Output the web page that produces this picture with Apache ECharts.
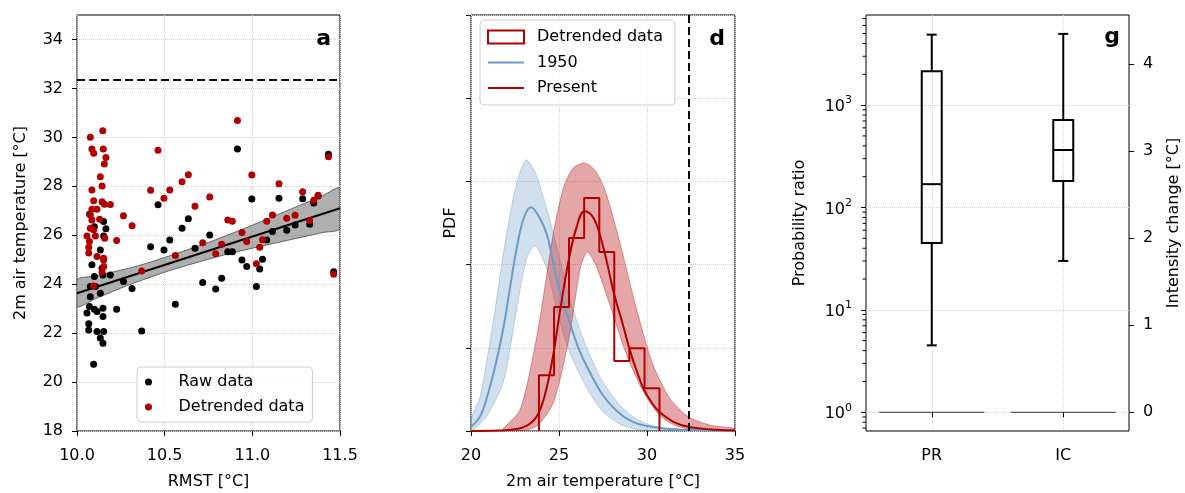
<!DOCTYPE html>
<html><head><meta charset="utf-8">
<script src="https://cdn.jsdelivr.net/npm/echarts@6/dist/echarts.min.js"></script>
<style>html,body{margin:0;padding:0;background:#fff}#c{width:1185px;height:493px}</style>
</head><body><div id="c"></div>
<script>
// ---------- Panel a: scatter ----------
const rmstRaw = [10.057,10.067,10.067,10.071,10.072,10.076,10.076,10.085,10.095,10.099,10.099,10.099,10.105,10.114,10.114,10.133,10.133,10.133,10.143,10.148,10.148,10.148,10.148,10.152,10.152,10.152,10.165,10.190,
  10.226,10.265,10.314,10.369,10.420,10.462,10.496,10.529,10.561,10.599,10.635,10.673,10.717,10.757,10.791,10.825,10.860,10.886,10.915,10.941,10.968,10.997,11.023,11.042,11.058,11.082,11.115,11.152,11.196,11.244,11.287,11.327,11.350,11.375,11.434,11.464];
const tempRaw = [22.82,22.38,22.13,23.09,26.86,23.90,23.49,24.79,20.73,26.35,24.31,22.98,23.90,22.88,22.07,25.40,23.63,21.80,24.65,24.38,23.02,22.68,21.59,26.56,25.97,22.07,26.26,24.38,
  22.98,24.11,23.82,22.09,25.53,27.25,25.40,25.81,23.18,26.29,26.67,25.47,24.07,26.01,23.80,24.24,25.33,25.33,29.52,24.99,24.72,27.48,23.90,24.62,25.02,25.81,26.15,27.51,26.20,26.42,27.49,26.45,27.32,27.60,29.31,24.51];
const rmstDet = [10.057,10.067,10.067,10.071,10.076,10.076,10.076,10.085,10.085,10.085,10.085,10.095,10.095,10.095,10.095,10.105,10.114,10.114,10.129,10.133,10.143,10.143,10.143,10.147,10.150,10.152,10.152,10.152,10.156,10.156,10.158,10.165,10.190,
  10.226,10.265,10.314,10.369,10.420,10.462,10.496,10.529,10.561,10.599,10.635,10.673,10.717,10.757,10.791,10.825,10.860,10.886,10.915,10.941,10.968,10.997,11.023,11.042,11.058,11.082,11.115,11.152,11.196,11.244,11.287,11.327,11.350,11.375,11.434,11.464];
const tempDet = [25.97,25.51,25.27,25.74,30.00,26.83,26.29,29.52,27.85,27.06,26.62,29.35,27.41,26.22,23.93,25.97,27.06,25.13,26.65,28.39,28.01,27.37,24.50,30.27,29.52,25.06,24.99,24.72,28.91,27.27,25.88,29.18,27.26,
  25.78,26.80,26.39,24.54,27.84,29.47,27.51,27.85,25.17,28.19,28.47,27.18,25.69,27.56,25.24,25.63,26.62,26.57,30.69,26.11,25.74,28.46,24.83,25.51,25.82,26.57,26.83,28.10,26.69,26.82,27.78,26.60,27.43,27.63,29.21,24.41];
const regX = [10.0, 11.5];
const regY = [23.63, 27.10];
const bandX     = [10.0,10.1,10.2,10.3,10.4,10.5,10.6,10.7,10.8,10.9,11.0,11.1,11.2,11.3,11.4,11.5];
const bandUpper = [24.18,24.33,24.49,24.66,24.86,25.09,25.33,25.58,25.84,26.12,26.41,26.71,27.01,27.31,27.61,27.93];
const bandLower = [23.08,23.39,23.69,23.98,24.24,24.49,24.71,24.92,25.12,25.30,25.47,25.63,25.79,25.95,26.11,26.27];
const eventTemp = 32.35;
const yTicksA = [18,20,22,24,26,28,30,32,34];

// ---------- Panel d: PDFs ----------
const line1950 = [[20,0.005],[20.5,0.017],[20.9,0.04],[21.4,0.08],[21.85,0.125],[22.2,0.17],[22.6,0.22],[23.0,0.256],[23.4,0.269],[23.85,0.258],[24.3,0.237],[24.6,0.21],[25.0,0.172],[25.6,0.131],[26.1,0.1],[26.6,0.077],[27.5,0.043],[28.5,0.02],[29.3,0.01],[30,0.006],[31,0.003],[32,0.0015],[35,0.0002]];
const band1950Upper = [[20,0.014],[20.5,0.04],[20.9,0.085],[21.4,0.15],[21.85,0.215],[22.4,0.28],[22.8,0.312],[23.15,0.326],[23.7,0.308],[24.3,0.267],[24.9,0.219],[25.6,0.159],[26.6,0.099],[27.5,0.059],[28.5,0.03],[29.4,0.0145],[30.5,0.005],[32,0.0015],[35,0.0003]];
const band1950Lower = [[20,0],[20.9,0.018],[21.85,0.06],[22.6,0.147],[23.15,0.207],[23.65,0.223],[24.3,0.195],[24.95,0.139],[25.6,0.095],[26.6,0.051],[27.5,0.023],[28.5,0.008],[29.4,0.002],[31,0],[35,0]];
const linePresent = [[20,0],[21.5,0.0005],[22.5,0.002],[23.3,0.008],[23.85,0.022],[24.3,0.052],[24.7,0.095],[25.1,0.15],[25.55,0.205],[26.0,0.245],[26.45,0.264],[26.9,0.258],[27.25,0.241],[27.7,0.205],[28.1,0.167],[28.6,0.13],[29.0,0.099],[29.4,0.073],[29.8,0.051],[30.3,0.033],[30.7,0.023],[31.5,0.011],[32.35,0.005],[33.5,0.002],[35,0.0005]];
const bandPresentUpper = [[21.8,0.002],[22.8,0.026],[23.75,0.115],[24.7,0.24],[25.25,0.292],[25.8,0.316],[26.45,0.322],[27.1,0.312],[27.7,0.284],[28.45,0.227],[29.4,0.147],[30.35,0.079],[31.3,0.039],[32.35,0.017],[33.6,0.007],[35,0.003]];
const bandPresentLower = [[21.8,0],[22.8,0],[23.75,0.006],[24.7,0.035],[25.6,0.115],[26.2,0.195],[26.6,0.215],[27.1,0.199],[27.9,0.151],[28.85,0.091],[29.8,0.047],[30.75,0.018],[31.7,0.006],[32.8,0.001],[35,0]];
const histEdges = [23.86,24.72,25.57,26.43,27.29,28.14,29.0,29.86,30.71];
const histDensity = [0.067,0.149,0.232,0.280,0.215,0.084,0.0996,0.0514];

// ---------- Panel g: boxes ----------
const gCats = [' ', 'PR', '  ', 'IC', '   '];
const prStats = [4.5, 45, 169, 2140, 4880];   // min, Q1, median, Q3, max
const icStats = [1.74, 2.66, 3.015, 3.36, 4.35];
const prBaseline = 1, icBaseline = 0;
const prTicks = [1, 10, 100, 1000];
const icTicks = [0, 1, 2, 3, 4];
const prRange = [0.656, 7590];
const icRange = [-0.215, 4.567];

const FONT = 'DejaVu Sans';
const RED = '#b20000';
const BLUE = '#6b9bca';
const tickStyle = {show:true, inside:false, length:5, lineStyle:{color:'#000', width:1}};
const splitStyle = {show:true, lineStyle:{color:'#d2d2d2', type:'dotted', width:1}};
const lab = {color:'#000', fontSize:16, fontFamily:FONT, margin:14};
const labX = Object.assign({}, lab, {margin:17});
const nameTS = {color:'#000', fontSize:16, fontFamily:FONT};

function polySeries(xi, yi, upper, lower, fill, stroke, z) {
  return {type:'custom', xAxisIndex:xi, yAxisIndex:yi, data:[[upper[0][0], upper[0][1]]], clip:true, silent:true, z:z,
    renderItem:function(params, api){
      const pts = upper.map(p=>api.coord(p)).concat(lower.slice().reverse().map(p=>api.coord(p)));
      return {type:'polygon', shape:{points:pts, smooth:0.25}, style:{fill:fill, stroke:stroke, lineWidth:1}};
    }};
}

function boxSeries(yi, stats, baseline) {
  return {type:'custom', xAxisIndex:2, yAxisIndex:yi, clip:false, silent:true, z:5,
    data:[[yi===2?1:3].concat(stats)], encode:{x:0, y:[1,2,3,4,5]},
    renderItem:function(params, api){
      const x = api.value(0);
      const bw = api.size([1,0])[0];
      const P = v => api.coord([x, v]);
      const cx = P(api.value(3))[0];
      const ys = [1,2,3,4,5].map(i=>P(api.value(i))[1]);
      const yb = P(baseline)[1];
      const hb = bw*0.152, hc = hb*0.5, hl = bw*0.8;
      const ls = {stroke:'#000', lineWidth:2, fill:null};
      return {type:'group', children:[
        {type:'line', shape:{x1:cx-hl,y1:yb,x2:cx+hl,y2:yb}, style:{stroke:'#333', lineWidth:1}},
        {type:'line', shape:{x1:cx,y1:ys[1],x2:cx,y2:ys[0]}, style:ls},
        {type:'line', shape:{x1:cx,y1:ys[3],x2:cx,y2:ys[4]}, style:ls},
        {type:'line', shape:{x1:cx-hc,y1:ys[0],x2:cx+hc,y2:ys[0]}, style:ls},
        {type:'line', shape:{x1:cx-hc,y1:ys[4],x2:cx+hc,y2:ys[4]}, style:ls},
        {type:'rect', shape:{x:cx-hb,y:ys[3],width:2*hb,height:ys[1]-ys[3]}, style:{stroke:'#000', lineWidth:2, fill:'rgba(0,0,0,0)'}},
        {type:'line', shape:{x1:cx-hb,y1:ys[2],x2:cx+hb,y2:ys[2]}, style:ls}
      ]};
    }};
}

// minor log ticks (axis decoration)
const minorVals = [];
for (let k=-1;k<=3;k++) for (let m=2;m<=9;m++) { const v=m*Math.pow(10,k); if (v>prRange[0] && v<prRange[1]) minorVals.push(v); }

// histogram outline built from edges + densities
const histLine = [[histEdges[0],0]];
histDensity.forEach((h,i)=>{ histLine.push([histEdges[i],h]); histLine.push([histEdges[i+1],h]); });
histLine.push([histEdges[histEdges.length-1],0]);

const legendBase = {orient:'vertical', borderColor:'#cccccc', borderWidth:1, borderRadius:4, backgroundColor:'rgba(255,255,255,0.85)', selectedMode:false};
const gridBase = {top:15, height:416, show:true, borderColor:'#000', borderWidth:1, backgroundColor:'transparent', containLabel:false, outerBoundsMode:'none'};

const option = {
  animation:false,
  textStyle:{fontFamily:FONT},
  grid:[
    Object.assign({}, gridBase, {left:77, width:263}),
    Object.assign({}, gridBase, {left:471, width:264}),
    Object.assign({}, gridBase, {left:866, width:263})
  ],
  xAxis:[
    {gridIndex:0, type:'value', min:10, max:11.5, interval:0.5, axisLine:{show:false}, axisTick:tickStyle,
     axisLabel:Object.assign({}, labX, {formatter:v=>v.toFixed(1)}), splitLine:splitStyle,
     name:'RMST [°C]', nameLocation:'middle', nameGap:43, nameTextStyle:nameTS},
    {gridIndex:1, type:'value', min:20, max:35, interval:5, axisLine:{show:false}, axisTick:tickStyle,
     axisLabel:labX, splitLine:splitStyle,
     name:'2m air temperature [°C]', nameLocation:'middle', nameGap:43, nameTextStyle:nameTS},
    {gridIndex:2, type:'category', data:gCats, boundaryGap:false, axisLine:{show:false},
     axisTick:Object.assign({}, tickStyle, {interval:(i)=>gCats[i].trim()!==''}),
     axisLabel:Object.assign({}, labX, {interval:(i,v)=>String(v).trim()!==''}),
     splitLine:Object.assign({}, splitStyle, {interval:(i)=>gCats[i].trim()!==''})}
  ],
  yAxis:[
    {gridIndex:0, type:'value', min:18, max:35, interval:2, axisLine:{show:false},
     axisTick:Object.assign({}, tickStyle, {customValues:yTicksA}),
     axisLabel:Object.assign({}, lab, {customValues:yTicksA}), splitLine:splitStyle,
     name:'2m air temperature [°C]', nameLocation:'middle', nameGap:48, nameTextStyle:nameTS},
    {gridIndex:1, type:'value', min:0, max:0.5, interval:0.1, axisLine:{show:false}, axisTick:tickStyle,
     axisLabel:{show:false}, splitLine:splitStyle,
     name:'PDF', nameLocation:'middle', nameGap:12, nameTextStyle:nameTS},
    {gridIndex:2, type:'log', logBase:10, min:prRange[0], max:prRange[1], axisLine:{show:false},
     axisTick:Object.assign({}, tickStyle, {customValues:prTicks}),
     axisLabel:Object.assign({}, lab, {customValues:prTicks,
        formatter:v=>'{b|10}{s|'+Math.round(Math.log10(v))+'}',
        rich:{b:{fontSize:16, fontFamily:FONT, color:'#000', lineHeight:20, verticalAlign:'bottom'},
              s:{fontSize:11, fontFamily:FONT, color:'#000', lineHeight:20, verticalAlign:'top'}}}),
     splitLine:splitStyle,
     name:'Probability ratio', nameLocation:'middle', nameGap:58, nameTextStyle:nameTS},
    {gridIndex:2, type:'value', position:'right', min:icRange[0], max:icRange[1], axisLine:{show:false},
     axisTick:Object.assign({}, tickStyle, {customValues:icTicks}),
     axisLabel:Object.assign({}, lab, {customValues:icTicks}), splitLine:{show:false},
     name:'Intensity change [°C]', nameLocation:'middle', nameGap:37, nameTextStyle:nameTS}
  ],
  legend:[
    Object.assign({}, legendBase, {data:['Raw data','Detrended data'], left:137, top:367,
      itemWidth:30, itemHeight:7, itemGap:7, padding:[6,8,6,8],
      textStyle:{fontSize:16, color:'#000', fontFamily:FONT, lineHeight:18, padding:[0,0,0,10]}}),
    Object.assign({}, legendBase, {data:[
        {name:'Detrended data ', icon:'rect', itemStyle:{color:'rgba(0,0,0,0)', borderColor:RED, borderWidth:2}},
        {name:'1950', itemStyle:{opacity:0}},
        {name:'Present', itemStyle:{opacity:0}}],
      left:480, top:20, itemWidth:36, itemHeight:13, itemGap:7.5, padding:[8,12,8,7], symbolKeepAspect:false,
      formatter:n=>n.trim(),
      textStyle:{fontSize:16, color:'#000', fontFamily:FONT, lineHeight:18, padding:[0,0,0,8]}})
  ],
  graphic:[
    {type:'text', x:331, y:39, style:{text:'a', fontSize:22, fontWeight:'bold', fontFamily:FONT, fill:'#000', align:'right', verticalAlign:'middle'}, z:100},
    {type:'text', x:725, y:39, style:{text:'d', fontSize:22, fontWeight:'bold', fontFamily:FONT, fill:'#000', align:'right', verticalAlign:'middle'}, z:100},
    {type:'text', x:1120, y:37, style:{text:'g', fontSize:22, fontWeight:'bold', fontFamily:FONT, fill:'#000', align:'right', verticalAlign:'middle'}, z:100}
  ],
  series:[
    polySeries(0, 0, bandX.map((x,i)=>[x,bandUpper[i]]), bandX.map((x,i)=>[x,bandLower[i]]), 'rgba(110,110,110,0.55)', 'rgba(70,70,70,0.8)', 1),
    {type:'line', xAxisIndex:0, yAxisIndex:0, data:regX.map((x,i)=>[x,regY[i]]), symbol:'none', z:2, silent:true,
     lineStyle:{color:'#000', width:2}},
    {type:'scatter', name:'Raw data', xAxisIndex:0, yAxisIndex:0, data:rmstRaw.map((x,i)=>[x,tempRaw[i]]),
     symbol:'circle', symbolSize:7, itemStyle:{color:'#000', opacity:1}, z:3,
     markLine:{silent:true, symbol:'none', label:{show:false}, lineStyle:{color:'#000', width:2, type:[8,4]}, data:[{yAxis:eventTemp}]}},
    {type:'scatter', name:'Detrended data', xAxisIndex:0, yAxisIndex:0, data:rmstDet.map((x,i)=>[x,tempDet[i]]),
     symbol:'circle', symbolSize:7, itemStyle:{color:RED, opacity:1}, z:4},

    polySeries(1, 1, band1950Upper, band1950Lower, 'rgba(70,130,180,0.25)', 'rgba(70,130,180,0.3)', 1),
    polySeries(1, 1, bandPresentUpper, bandPresentLower, 'rgba(185,20,20,0.38)', 'rgba(185,20,20,0.4)', 2),
    {type:'line', name:'1950', xAxisIndex:1, yAxisIndex:1, data:line1950, symbol:'none', smooth:0.4, z:3,
     lineStyle:{color:BLUE, width:2}, itemStyle:{color:BLUE}},
    {type:'line', name:'Present', xAxisIndex:1, yAxisIndex:1, data:linePresent, symbol:'none', smooth:0.4, z:4,
     lineStyle:{color:RED, width:2}, itemStyle:{color:RED},
     markLine:{silent:true, symbol:'none', label:{show:false}, lineStyle:{color:'#000', width:2, type:[8,4]}, data:[{xAxis:eventTemp}]}},
    {type:'line', name:'Detrended data ', xAxisIndex:1, yAxisIndex:1, data:histLine, symbol:'none', z:5,
     lineStyle:{color:RED, width:2}, itemStyle:{color:RED}},

    boxSeries(2, prStats, prBaseline),
    boxSeries(3, icStats, icBaseline),
    {type:'custom', xAxisIndex:2, yAxisIndex:2, data:minorVals.map(v=>[1,v]), clip:false, silent:true, z:6,
     renderItem:function(params, api){
       const x0 = params.coordSys.x;
       const y = api.coord([api.value(0), api.value(1)])[1];
       return {type:'line', shape:{x1:x0-3.5,y1:y,x2:x0,y2:y}, style:{stroke:'#000', lineWidth:1}};
     }}
  ]
};
const chart = echarts.init(document.getElementById('c'), null, {renderer:'canvas'});
chart.setOption(option);
</script>
</body></html>
